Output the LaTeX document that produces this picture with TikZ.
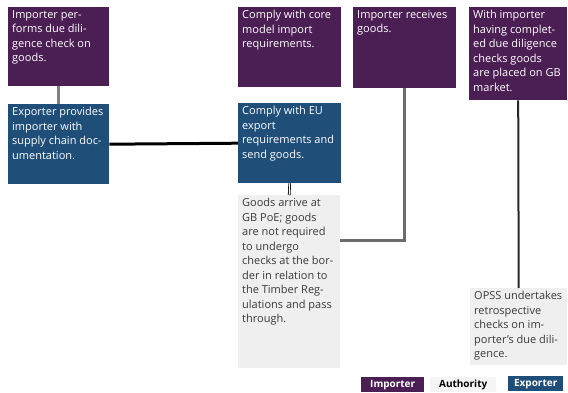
\documentclass[tikz,border=0pt]{standalone}
\usepackage{fontspec}
\setmainfont{Open Sans}
\definecolor{imppurple}{HTML}{4B1F53}
\definecolor{expblue}{HTML}{1F4E79}
\definecolor{authgray}{HTML}{EFEFEF}
\definecolor{authtext}{HTML}{3A3A3A}
\newcommand{\boxtext}[3]{\parbox[t][#1][t]{#2}{\raggedright\leftskip=2pt\rightskip=-12pt plus 1fil #3}}

\begin{document}
\begin{tikzpicture}[x=1pt,y=-1pt,
	every node/.style={font=\fontsize{11}{14.5}\selectfont},
	stepbox/.style={rectangle,anchor=north west,inner xsep=2pt,inner ysep=3pt},
	importer/.style={stepbox,fill=imppurple,text=white},
	exporter/.style={stepbox,fill=expblue,text=white},
	authority/.style={stepbox,fill=authgray,text=authtext},
	legend/.style={rectangle,anchor=north west,inner sep=0pt,minimum height=15pt,font=\fontsize{10}{12}\selectfont\bfseries}]
	\useasboundingbox (0,0) rectangle (568,393);

	\node[importer] (imp1) at (8,7) {\boxtext{73pt}{97pt}{Importer per-\\forms due dili-\\gence check on\\goods.}};
	\node[exporter] (exp1) at (8,104) {\boxtext{74pt}{97pt}{Exporter provides\\importer with\\supply chain doc-\\umentation.}};
	\node[importer] (imp2) at (238,7) {\boxtext{74pt}{99pt}{Comply with core\\model import\\requirements.}};
	\node[exporter] (exp2) at (238,103) {\boxtext{74pt}{99pt}{Comply with EU\\export\\requirements and\\send goods.}};
	\node[authority] (auth1) at (238,195) {\boxtext{167pt}{98pt}{Goods arrive at\\GB PoE; goods\\are not required\\to undergo\\checks at the bor-\\der in relation to\\the Timber Reg-\\ulations and pass\\through.}};
	\node[importer] (imp3) at (353,7) {\boxtext{75pt}{99pt}{Importer receives\\goods.}};
	\node[importer] (imp4) at (469,7) {\boxtext{87pt}{94pt}{With importer\\having complet-\\ed due diligence\\checks goods\\are placed on GB\\market.}};
	\node[authority] (auth2) at (470,288) {\boxtext{71pt}{93pt}{OPSS undertakes\\retrospective\\checks on im-\\porter's due dili-\\gence.}};

	% connectors
	\draw [gray, line width=3pt] (imp1.south) -- (exp1.north);
	\draw [black, line width=3pt] (exp1.east) -- (exp2.west);
	\draw [black, double, double distance=1pt, line width=0.8pt] (exp2.south) -- (auth1.north);
	\draw [gray!85!black, line width=3pt] (imp3.south) |- ([yshift=-45pt]auth1.north east);
	\draw [black!85, line width=2pt] (imp4.south) -- (auth2.north);

	% legend
	\node[legend,fill=imppurple,text=white,minimum width=63pt] (legimp) at (361,377) {Importer};
	\node[legend,fill=authgray!60,text=black,minimum width=66pt] (legauth) at (430,377) {Authority};
	\node[legend,fill=expblue,text=white,minimum width=55pt] (legexp) at (508,376) {Exporter};
\end{tikzpicture}
\end{document}
